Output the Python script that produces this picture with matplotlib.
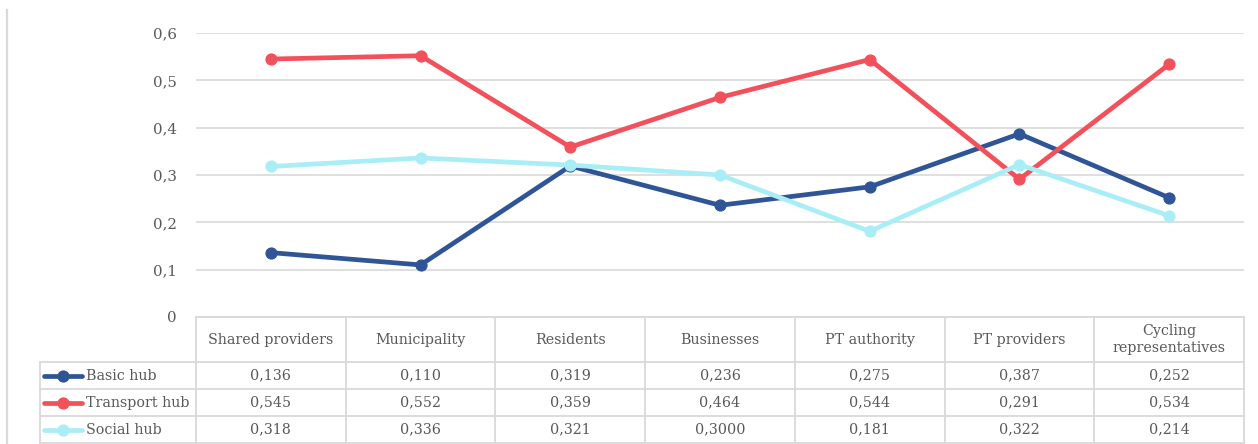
import matplotlib
matplotlib.use("Agg")
import matplotlib.pyplot as plt
from matplotlib.lines import Line2D

categories = ["Shared providers", "Municipality", "Residents", "Businesses",
              "PT authority", "PT providers", "Cycling\nrepresentatives"]
basic_hub = [0.136, 0.110, 0.319, 0.236, 0.275, 0.387, 0.252]
transport_hub = [0.545, 0.552, 0.359, 0.464, 0.544, 0.291, 0.534]
social_hub = [0.318, 0.336, 0.321, 0.300, 0.181, 0.322, 0.214]
social_decimals = [3, 3, 3, 4, 3, 3, 3]   # Businesses is printed as 0,3000
yticks = [0, 0.1, 0.2, 0.3, 0.4, 0.5, 0.6]

series = [
    ("Basic hub", basic_hub, "#2F5597", [3] * 7),
    ("Transport hub", transport_hub, "#F2515B", [3] * 7),
    ("Social hub", social_hub, "#A9EEF6", social_decimals),
]

W, H = 1258, 444
TXT = "#595959"
GRID = "#D9D9D9"
FONT = "DejaVu Serif"
FS = 10.3
LW = 3.4

plt.rcParams["font.family"] = [FONT]


def fmt(v, d):
    return f"{v:.{d}f}".replace(".", ",")


fig = plt.figure(figsize=(W / 100, H / 100), dpi=100)

# plot area in pixel terms: x 196..1244, y 33 (0.6) .. 317 (0)
ax = fig.add_axes([196 / W, (H - 317) / H, 1048 / W, 284 / H])
x = list(range(len(categories)))
for name, vals, col, _ in series:
    ax.plot(x, vals, color=col, lw=LW, marker="o", ms=7.8,
            solid_capstyle="round", clip_on=False, zorder=3)
ax.set_xlim(-0.5, len(categories) - 0.5)
ax.set_ylim(0, 0.6)
ax.set_yticks(yticks)
ax.set_yticklabels([fmt(t, 1) if t else "0" for t in yticks])
ax.tick_params(axis="y", length=0, pad=14, labelsize=10.8, labelcolor=TXT)
ax.tick_params(axis="x", length=0, labelbottom=False)
ax.yaxis.grid(True, color=GRID, lw=1.2)
ax.set_axisbelow(True)
for s in ax.spines.values():
    s.set_visible(False)

# data table below the plot: header 45 px, three rows of 27 px
ta = fig.add_axes([196 / W, (H - 443) / H, 1048 / W, 126 / H])
ta.set_xlim(-0.5, len(categories) - 0.5)
ta.set_ylim(126, 0)
ta.axis("off")
left = -0.5 - (196 - 40) / (1048 / len(categories))
row_tops = [0, 45, 72, 99, 126]
kw = dict(color=GRID, lw=1.3, clip_on=False)

ta.plot([-0.5, 6.5], [0, 0], **kw)
for y in row_tops[1:]:
    ta.plot([left, 6.5], [y, y], **kw)
ta.plot([left, left], [45, 126], **kw)
for i in range(len(categories) + 1):
    ta.plot([i - 0.5, i - 0.5], [0, 126], **kw)

for i, c in enumerate(categories):
    ta.text(i, 22.5, c, ha="center", va="center", fontsize=FS, color=TXT,
            linespacing=1.35)

unit = (1048 / len(categories))
for r, (name, vals, col, decs) in enumerate(series):
    yc = (row_tops[r + 1] + row_tops[r + 2]) / 2
    for i, v in enumerate(vals):
        ta.text(i, yc, fmt(v, decs[i]), ha="center", va="center",
                fontsize=FS, color=TXT)
    x0 = left + 4 / unit
    x1 = left + 42 / unit
    ta.add_line(Line2D([x0, x1], [yc, yc], color=col, lw=LW,
                       solid_capstyle="round", clip_on=False))
    ta.add_line(Line2D([(x0 + x1) / 2], [yc], color=col, marker="o", ms=7.8,
                       clip_on=False))
    ta.text(left + 46 / unit, yc, name, ha="left", va="center",
            fontsize=FS, color=TXT)

# thin frame line on the left edge
fig.add_artist(Line2D([7 / W, 7 / W], [0, (H - 10) / H], color=GRID, lw=1.6))

fig.savefig("out.png", dpi=100)
